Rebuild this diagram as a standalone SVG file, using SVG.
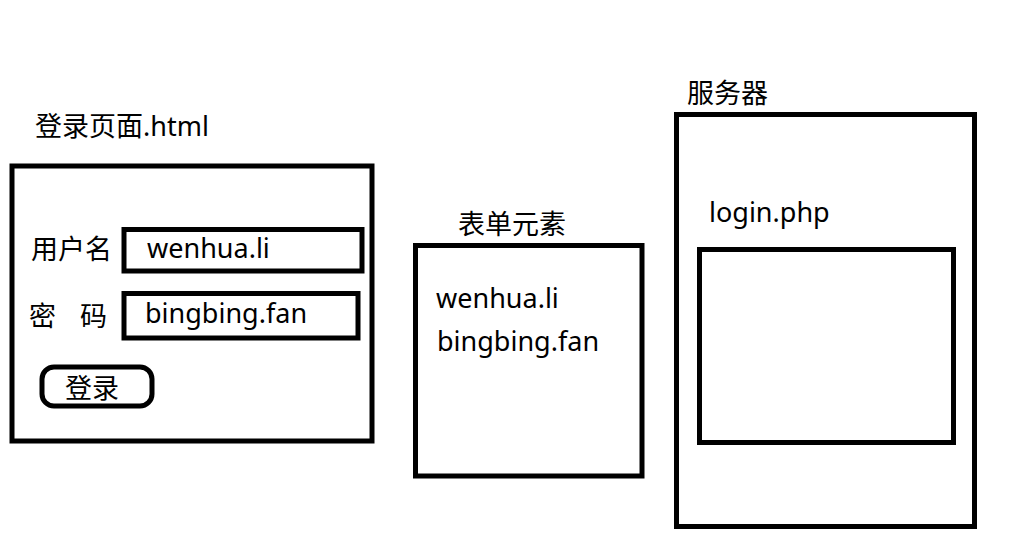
<svg xmlns="http://www.w3.org/2000/svg" width="1018" height="557" viewBox="0 0 1018 557">
<style>
.box{fill:none;stroke:#000;stroke-width:5}
.t{font-family:"Segoe UI","Noto Sans","Noto Sans CJK SC",sans-serif;font-size:27px;fill:#000}
.c{font-family:"Noto Sans CJK SC",sans-serif;font-size:27px;fill:#000}
</style>
<rect width="1018" height="557" fill="#fff"/>
<g id="login-page">
<text class="c" x="35" y="136">登录页面<tspan class="t">.html</tspan></text>
<rect class="box" x="12" y="166" width="360" height="275"/>
<text class="c" x="31" y="259">用户名</text>
<rect class="box" x="124" y="229.5" width="238" height="41.5"/>
<text class="t" x="147" y="258">wenhua.li</text>
<text class="c" x="29" y="326">密</text>
<text class="c" x="80" y="326">码</text>
<rect class="box" x="124" y="293.5" width="234" height="44.5"/>
<text class="t" x="145" y="323">bingbing.fan</text>
<rect class="box" x="42" y="367" width="110" height="39" rx="12"/>
<text class="c" x="65" y="398">登录</text>
</g>
<g id="form-elements">
<text class="c" x="458" y="234">表单元素</text>
<rect class="box" x="415.5" y="245.5" width="226.5" height="230.5"/>
<text class="t" x="436" y="308">wenhua.li</text>
<text class="t" x="437" y="351">bingbing.fan</text>
</g>
<g id="server">
<text class="c" x="687" y="103">服务器</text>
<rect class="box" x="676.5" y="114.5" width="298" height="412"/>
<text class="t" x="709" y="222">login.php</text>
<rect class="box" x="699.5" y="249.5" width="254" height="193"/>
</g>
<g id="connectors"></g>
</svg>
